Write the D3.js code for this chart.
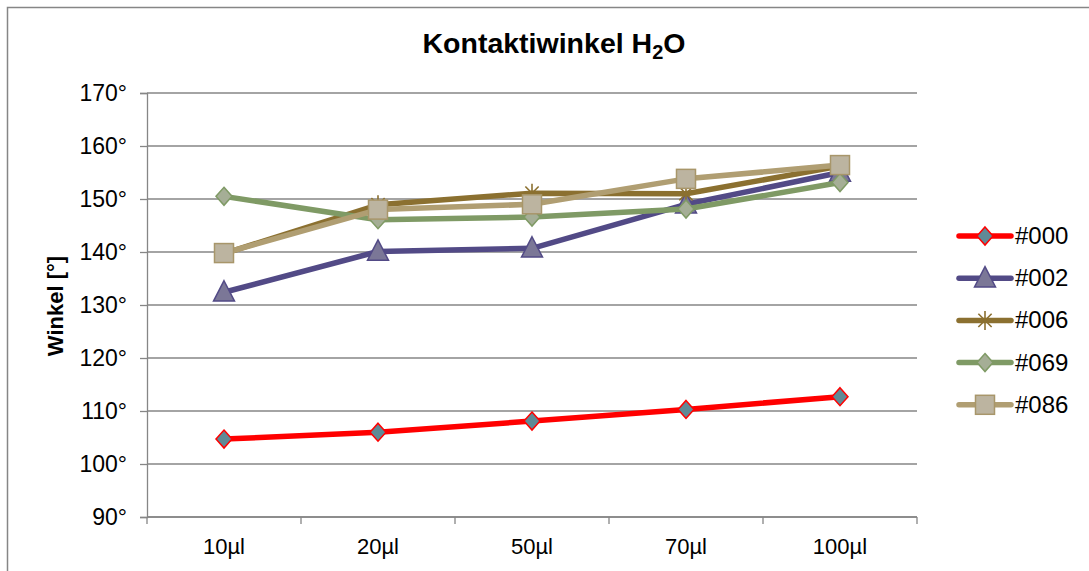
<!DOCTYPE html>
<html>
<head>
<meta charset="utf-8">
<script src="https://cdn.jsdelivr.net/npm/d3@7"></script>
<style>
  html, body { margin: 0; padding: 0; background: #fff; }
  svg { display: block; font-family: "Liberation Sans", Arial, sans-serif; }
</style>
</head>
<body>
<svg id="chart" width="1089" height="571"></svg>
<script>
// Volumes on the x axis
const categories = ["10µl", "20µl", "50µl", "70µl", "100µl"];

// Contact angle (degrees) per sample
const s000 = [104.7, 106.0, 108.1, 110.3, 112.7];
const s002 = [132.4, 140.1, 140.7, 149.0, 155.0];
const s006 = [139.7, 148.9, 151.1, 151.0, 156.2];
const s069 = [150.5, 146.1, 146.6, 148.1, 153.1];
const s086 = [139.8, 148.0, 149.0, 153.8, 156.4];

const seriesNames = ["#000", "#002", "#006", "#069", "#086"];
const yTicks = [90, 100, 110, 120, 130, 140, 150, 160, 170];

const styles = [
  { line: "#ff0000", fill: "#5f8a96", stroke: "#ff0000", marker: "diamond", size: 16 },
  { line: "#524a86", fill: "#7b7797", stroke: "#524a86", marker: "triangle", size: 21 },
  { line: "#8b7030", fill: "none",    stroke: "#8b7030", marker: "asterisk", size: 19 },
  { line: "#7f9a65", fill: "#a5ae96", stroke: "#7f9a65", marker: "diamond", size: 16 },
  { line: "#b09e72", fill: "#bcb4a0", stroke: "#a8966a", marker: "square", size: 19 }
];

const series = [s000, s002, s006, s069, s086].map((values, i) => ({
  name: seriesNames[i], values, style: styles[i]
}));

const svg = d3.select("#chart");

// outer chart frame
svg.append("rect")
  .attr("x", 7.5).attr("y", 7.5)
  .attr("width", 1100).attr("height", 600)
  .attr("fill", "none").attr("stroke", "#868686").attr("stroke-width", 1.5);

const plot = { left: 147, right: 917, top: 93, bottom: 517 };

const x = d3.scaleBand().domain(categories).range([plot.left, plot.right]);
const y = d3.scaleLinear().domain([90, 170]).range([plot.bottom, plot.top]);

// horizontal gridlines
svg.append("g")
  .selectAll("line")
  .data(yTicks)
  .join("line")
  .attr("x1", plot.left).attr("x2", plot.right)
  .attr("y1", d => y(d)).attr("y2", d => y(d))
  .attr("stroke", "#868686").attr("stroke-width", 1.3);

// y axis
const yAxis = svg.append("g")
  .attr("transform", `translate(${plot.left},0)`)
  .call(d3.axisLeft(y).tickValues(yTicks).tickSize(7).tickPadding(13).tickFormat(d => d + "°"));
yAxis.select(".domain").attr("stroke", "#868686").attr("stroke-width", 1.3);
yAxis.selectAll(".tick line").attr("stroke", "#868686").attr("stroke-width", 1.3);
yAxis.selectAll("text")
  .attr("font-size", 23).attr("fill", "#000")
  .attr("font-family", "Liberation Sans, Arial, sans-serif");

// x axis with ticks at band boundaries
const xAxisG = svg.append("g").attr("transform", `translate(0,${plot.bottom})`);
xAxisG.append("line")
  .attr("x1", plot.left).attr("x2", plot.right)
  .attr("stroke", "#868686").attr("stroke-width", 1.3);
const boundaries = categories.map(c => x(c)).concat([x(categories[categories.length - 1]) + x.bandwidth()]);
xAxisG.selectAll(".btick")
  .data(boundaries)
  .join("line")
  .attr("class", "btick")
  .attr("x1", d => d).attr("x2", d => d)
  .attr("y1", 0).attr("y2", 7)
  .attr("stroke", "#868686").attr("stroke-width", 1.3);
xAxisG.selectAll(".xlab")
  .data(categories)
  .join("text")
  .attr("class", "xlab")
  .attr("x", d => x(d) + x.bandwidth() / 2)
  .attr("y", 37)
  .attr("text-anchor", "middle")
  .attr("font-size", 22)
  .text(d => d);

// title
const title = svg.append("text")
  .attr("x", 554).attr("y", 53)
  .attr("text-anchor", "middle")
  .attr("font-size", 28.5).attr("font-weight", "bold");
title.append("tspan").text("Kontaktiwinkel H");
title.append("tspan").attr("font-size", 20).attr("dy", 6).text("2");
title.append("tspan").attr("dy", -6).text("O");

// y axis title
svg.append("text")
  .attr("transform", "translate(63,306) rotate(-90)")
  .attr("text-anchor", "middle")
  .attr("font-size", 22).attr("font-weight", "bold")
  .text("Winkel [°]");

function drawMarker(g, st) {
  const s = st.size;
  if (st.marker === "diamond") {
    g.append("path")
      .attr("d", `M0,${-s / 2 - 1}L${s / 2},0L0,${s / 2 + 1}L${-s / 2},0Z`)
      .attr("fill", st.fill).attr("stroke", st.stroke).attr("stroke-width", 1.5);
  } else if (st.marker === "triangle") {
    g.append("path")
      .attr("d", `M0,${-s * 0.55}L${s / 2},${s * 0.42}L${-s / 2},${s * 0.42}Z`)
      .attr("fill", st.fill).attr("stroke", st.stroke).attr("stroke-width", 1.5);
  } else if (st.marker === "square") {
    g.append("rect")
      .attr("x", -s / 2).attr("y", -s / 2).attr("width", s).attr("height", s)
      .attr("fill", st.fill).attr("stroke", st.stroke).attr("stroke-width", 1.5);
  } else if (st.marker === "asterisk") {
    const r = s / 2;
    const p = d3.path();
    p.moveTo(-r * 0.7, -r * 0.7); p.lineTo(r * 0.7, r * 0.7);
    p.moveTo(r * 0.7, -r * 0.7); p.lineTo(-r * 0.7, r * 0.7);
    p.moveTo(0, -r); p.lineTo(0, r);
    g.append("path").attr("d", p.toString())
      .attr("stroke", st.stroke).attr("stroke-width", 1.6).attr("fill", "none");
  }
}

const line = d3.line()
  .x((d, i) => x(categories[i]) + x.bandwidth() / 2)
  .y(d => y(d));

const lines = svg.append("g");
series.forEach(sr => {
  lines.append("path")
    .datum(sr.values)
    .attr("d", line)
    .attr("fill", "none")
    .attr("stroke", sr.style.line)
    .attr("stroke-width", 5.5)
    .attr("stroke-linejoin", "round")
    .attr("stroke-linecap", "round");
  sr.values.forEach((v, i) => {
    const g = lines.append("g")
      .attr("transform", `translate(${x(categories[i]) + x.bandwidth() / 2},${y(v)})`);
    drawMarker(g, sr.style);
  });
});

// legend
const legend = svg.append("g");
series.forEach((sr, i) => {
  const ly = 236 + i * 42.2;
  const g = legend.append("g").attr("transform", `translate(0,${ly})`);
  g.append("line")
    .attr("x1", 959).attr("x2", 1011)
    .attr("stroke", sr.style.line).attr("stroke-width", 5.5)
    .attr("stroke-linecap", "round");
  const m = g.append("g").attr("transform", "translate(985,0)");
  drawMarker(m, sr.style);
  g.append("text")
    .attr("x", 1015).attr("y", 8)
    .attr("font-size", 24)
    .text(sr.name);
});
</script>
</body>
</html>
